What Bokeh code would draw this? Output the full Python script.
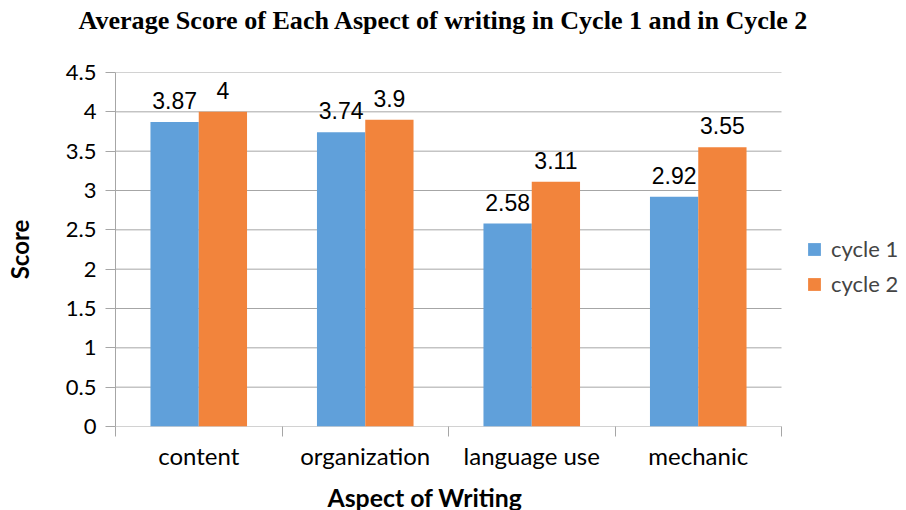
import numpy as np
from bokeh.plotting import figure
from bokeh.models import (ColumnDataSource, FixedTicker, NumeralTickFormatter, Range1d,
                          LabelSet, Legend, LegendItem, Title)
from bokeh.embed import file_html
from bokeh.resources import INLINE
from bokeh.core.properties import value

categories = ["content", "organization", "language use", "mechanic"]
cycle1 = [3.87, 3.74, 2.58, 2.92]
cycle2 = [4.0, 3.9, 3.11, 3.55]
series_names = ["cycle 1", "cycle 2"]
label1 = ["3.87", "3.74", "2.58", "2.92"]
label2 = ["4", "3.9", "3.11", "3.55"]
y_ticks = [0, 0.5, 1, 1.5, 2, 2.5, 3, 3.5, 4, 4.5]

BLUE = "#60a0da"
ORANGE = "#f2843c"
GRID = "#a6a6a6"
BW = 0.29

PLOT_W = 666      # pixel width of the category area
FRAME_W = 790     # frame also hosts the legend on its right
n = len(categories)

centers = np.arange(n) + 0.5
src1 = ColumnDataSource(dict(x=centers - BW / 2, top=cycle1, lab=label1))
src2 = ColumnDataSource(dict(x=centers + BW / 2, top=cycle2, lab=label2))

p = figure(frame_width=FRAME_W, frame_height=354, output_backend="svg", toolbar_location=None,
           x_range=Range1d(0, n * FRAME_W / PLOT_W), y_range=Range1d(0, 4.5),
           min_border_left=115, min_border_right=0, min_border_top=70,
           min_border_bottom=10, outline_line_color=None)

# spacer between plot area and the main title (the main title sits outermost)
p.add_layout(Title(text=" ", text_font="Liberation Serif", text_font_size="26px",
                   standoff=0), "above")

p.title.text = "Average Score of Each Aspect of writing in Cycle 1 and in Cycle 2"
p.title.text_font = "Liberation Serif"
p.title.text_font_style = "bold"
p.title.text_font_size = "26.1px"
p.title.align = "left"
p.title.vertical_align = "top"
p.title.offset = -37
p.title.text_color = "black"
p.title.standoff = 10

# gridlines / baseline limited to category area
p.segment(x0=0, x1=n, y0=y_ticks, y1=y_ticks, line_color=GRID, line_width=1)

r1 = p.vbar(x="x", top="top", width=BW, source=src1, fill_color=BLUE, line_color=None)
r2 = p.vbar(x="x", top="top", width=BW, source=src2, fill_color=ORANGE, line_color=None)

for s in (src1, src2):
    p.add_layout(LabelSet(x="x", y="top", text="lab", source=s, y_offset=13,
                          text_align="center", text_baseline="alphabetic",
                          text_font=value("Liberation Sans"), text_font_size="23px",
                          text_color="black"))

# x axis
p.xaxis.ticker = FixedTicker(ticks=list(centers), minor_ticks=list(range(n + 1)))
p.xaxis.major_label_overrides = {float(c): nm for c, nm in zip(centers, categories)}
p.xaxis.major_tick_out = 0
p.xaxis.major_tick_in = 0
p.xaxis.minor_tick_out = 10
p.xaxis.minor_tick_in = 0
p.xaxis.minor_tick_line_color = GRID
p.xaxis.axis_line_color = None
p.xaxis.major_label_standoff = 4
p.xaxis.major_label_text_font_size = "24px"

p.add_layout(Title(text="Aspect of Writing", align="left", offset=212,
                   text_font="Lato", text_font_style="bold", text_font_size="24.8px",
                   text_color="black", standoff=16), "below")

# y axis
p.yaxis.ticker = FixedTicker(ticks=y_ticks, minor_ticks=[])
p.yaxis.formatter = NumeralTickFormatter(format="0.[0]")
p.yaxis.major_tick_out = 10
p.yaxis.major_tick_in = 0
p.yaxis.major_tick_line_color = GRID
p.yaxis.axis_line_color = GRID
p.yaxis.major_label_standoff = 9
p.yaxis.major_label_text_font_size = "22px"
p.yaxis.axis_label = "Score"
p.yaxis.axis_label_standoff = 29

for ax in (p.xaxis, p.yaxis):
    ax.major_label_text_font = "Lato"
    ax.major_label_text_color = "black"
    ax.axis_label_text_font = "Lato"
    ax.axis_label_text_font_style = "bold"
    ax.axis_label_text_font_size = "24px"
    ax.axis_label_text_color = "black"

p.xgrid.grid_line_color = None
p.ygrid.grid_line_color = None

legend = Legend(items=[LegendItem(label=series_names[0], renderers=[r1]),
                       LegendItem(label=series_names[1], renderers=[r2])],
                location=(PLOT_W + 25, 129), border_line_color=None, background_fill_alpha=0,
                glyph_width=16, glyph_height=16, label_text_font="Lato",
                label_text_font_size="22px", spacing=8, padding=0, margin=0,
                label_standoff=9)
p.add_layout(legend, "center")

open("out.html", "w").write(file_html(p, INLINE))
